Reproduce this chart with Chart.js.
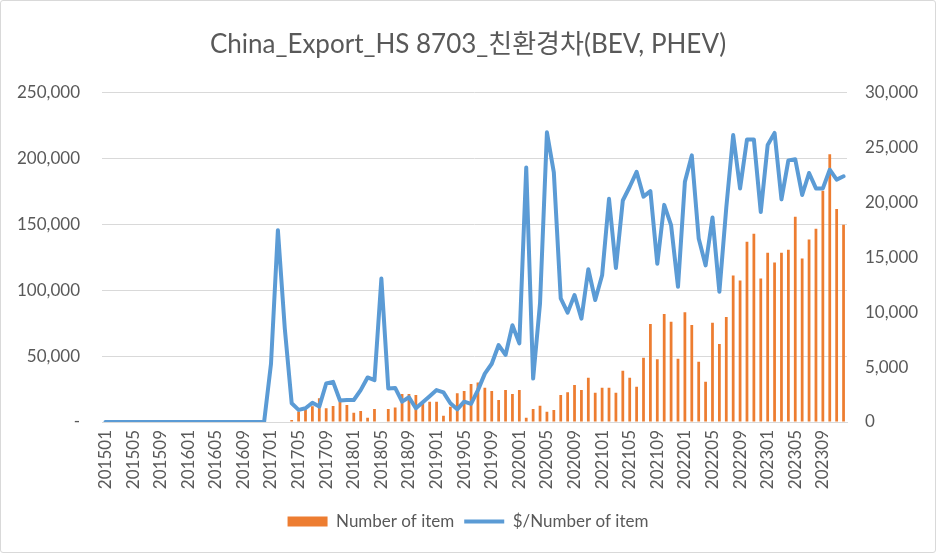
<!DOCTYPE html>
<html>
<head>
<meta charset="utf-8">
<title>China Export HS 8703</title>
<script src="https://cdn.jsdelivr.net/npm/chart.js@4.4.1/dist/chart.umd.min.js"></script>
<style>
    body { margin: 0; background: #fff; }
    #wrap {
        position: absolute; left: 0; top: 0;
        width: 936px; height: 553px;
        box-sizing: border-box;
        border: 1px solid #d9d9d9;
        border-radius: 3px;
    }
</style>
</head>
<body>
<div id="wrap"><canvas id="chart" width="934" height="551"></canvas></div>
<script>
// months 201501 .. 202312
const months = [
    '201501','201502','201503','201504','201505','201506','201507','201508','201509','201510','201511','201512',
    '201601','201602','201603','201604','201605','201606','201607','201608','201609','201610','201611','201612',
    '201701','201702','201703','201704','201705','201706','201707','201708','201709','201710','201711','201712',
    '201801','201802','201803','201804','201805','201806','201807','201808','201809','201810','201811','201812',
    '201901','201902','201903','201904','201905','201906','201907','201908','201909','201910','201911','201912',
    '202001','202002','202003','202004','202005','202006','202007','202008','202009','202010','202011','202012',
    '202101','202102','202103','202104','202105','202106','202107','202108','202109','202110','202111','202112',
    '202201','202202','202203','202204','202205','202206','202207','202208','202209','202210','202211','202212',
    '202301','202302','202303','202304','202305','202306','202307','202308','202309','202310','202311','202312'
];

// Number of item (left axis)
const itemCount = [
    0, 0, 0, 0, 0, 0, 0, 0, 0, 0, 0, 0,
    0, 0, 0, 0, 0, 0, 0, 0, 0, 0, 0, 0,
    0, 0, 0, 1500, 8000, 9500, 12000, 18000, 10500, 12100, 15400, 12900,
    7100, 8300, 3300, 9800, 0, 9800, 10900, 21200, 21200, 20400, 14300, 15400,
    15400, 4700, 11600, 21700, 23500, 28800, 30000, 26000, 23500, 16700, 24200, 21200,
    24200, 3300, 9800, 12400, 7800, 9100, 20400, 22500, 28000, 24200, 33600, 22200,
    26000, 26000, 22200, 38900, 33600, 26800, 48700, 74200, 47500, 81800, 76000, 48000,
    83100, 73500, 45700, 30500, 75200, 59100, 79500, 111100, 107300, 136600, 142700, 108800,
    128300, 121000, 128300, 130600, 155600, 124000, 138400, 146500, 175300, 203000, 161400, 149500
];

// $/Number of item (right axis)
const pricePerItem = [
    0, 0, 0, 0, 0, 0, 0, 0, 0, 0, 0, 0,
    0, 0, 0, 0, 0, 0, 0, 0, 0, 0, 0, 0,
    5300, 17450, 8500, 1700, 1100, 1250, 1750, 1400, 3500, 3650, 1950, 2000,
    2000, 2900, 4050, 3800, 13050, 3050, 3100, 1850, 2250, 1250, 1800, 2350,
    2900, 2700, 1700, 1150, 1850, 1650, 2900, 4400, 5300, 7000, 6100, 8800,
    7150, 23150, 3950, 10800, 26350, 22700, 11250, 9950, 11550, 9400, 13900, 11100,
    13350, 20300, 14000, 20150, 21400, 22750, 20500, 21000, 14400, 19750, 17900, 12300,
    21850, 24250, 16700, 14250, 18600, 11850, 19500, 26100, 21250, 25700, 25700, 19100,
    25200, 26300, 20250, 23800, 23900, 20650, 22650, 21250, 21250, 22950, 22050, 22350
];

const textColor = '#595959';
const gridColor = '#d9d9d9';
const fontFamily = "Lato, 'Noto Sans CJK KR', sans-serif";

const ctx = document.getElementById('chart').getContext('2d');

new Chart(ctx, {
    type: 'bar',
    data: {
        labels: months,
        datasets: [{
            type: 'bar',
            label: 'Number of item',
            data: itemCount,
            backgroundColor: '#ed7d31',
            borderWidth: 0,
            barPercentage: 0.4,
            categoryPercentage: 1.0,
            pointStyle: 'rect',
            yAxisID: 'y',
            order: 1
        }, {
            type: 'line',
            label: '$/Number of item',
            data: pricePerItem,
            borderColor: '#5b9bd5',
            backgroundColor: '#5b9bd5',
            borderWidth: 4,
            borderJoinStyle: 'round',
            borderCapStyle: 'round',
            pointRadius: 0,
            pointHoverRadius: 0,
            pointStyle: 'line',
            tension: 0,
            yAxisID: 'y1',
            order: 0
        }]
    },
    options: {
        responsive: false,
        animation: false,
        layout: { padding: { left: 0, right: 0, top: 0, bottom: 12 } },
        plugins: {
            title: {
                display: true,
                text: 'China_Export_HS 8703_친환경차(BEV, PHEV)',
                color: textColor,
                font: { family: fontFamily, size: 26, weight: 'normal', lineHeight: 1.2 },
                padding: { top: 28, bottom: 32 }
            },
            legend: {
                position: 'bottom',
                labels: {
                    color: textColor,
                    font: { family: fontFamily, size: 17 },
                    usePointStyle: true,
                    pointStyleWidth: 40,
                    boxHeight: 10,
                    padding: 10,
                    sort: (a, b) => a.datasetIndex - b.datasetIndex
                }
            },
            tooltip: { enabled: false }
        },
        scales: {
            x: {
                grid: { display: false, drawTicks: false },
                border: { color: gridColor },
                ticks: {
                    color: textColor,
                    font: { family: fontFamily, size: 17 },
                    autoSkip: false,
                    maxRotation: 90,
                    minRotation: 90,
                    padding: 8,
                    callback: function(value, index) {
                        return index % 4 === 0 ? months[index] : '';
                    }
                },
                afterFit: function(scale) { scale.height = 81; }
            },
            y: {
                position: 'left',
                min: 0,
                max: 250000,
                grid: { color: gridColor, drawTicks: false },
                border: { display: false },
                ticks: {
                    stepSize: 50000,
                    color: textColor,
                    font: { family: fontFamily, size: 17 },
                    padding: 22,
                    callback: function(value) {
                        return value === 0 ? '-' : value.toLocaleString('en-US');
                    }
                },
                afterFit: function(scale) { scale.width = 101; }
            },
            y1: {
                position: 'right',
                min: 0,
                max: 30000,
                grid: { display: false, drawTicks: false },
                border: { display: false },
                ticks: {
                    stepSize: 5000,
                    color: textColor,
                    font: { family: fontFamily, size: 17 },
                    padding: 18,
                    callback: function(value) {
                        return value.toLocaleString('en-US');
                    }
                },
                afterFit: function(scale) { scale.width = 88; }
            }
        }
    }
});
</script>
</body>
</html>
